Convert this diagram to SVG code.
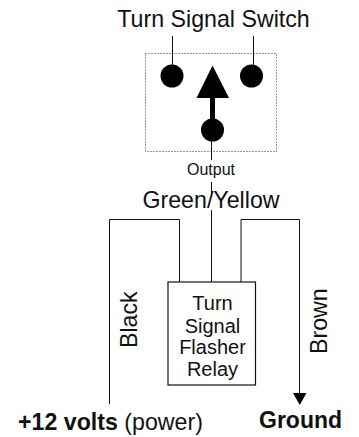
<svg xmlns="http://www.w3.org/2000/svg" width="359" height="437" viewBox="0 0 359 437">
<style>
text{font-family:"Liberation Sans",Arial,sans-serif;fill:#111}
.l{font-size:23.200px}
.m{font-size:20px}
.w{fill:none;stroke:#111;stroke-width:1}
</style>
<rect width="359" height="437" fill="#fff"/>
<g id="connectors">
<path class="w" d="M172.500 36V65M253.500 36V65M211.500 140V160M211.500 182V197M211.500 210V282"/>
<path class="w" d="M109.500 404V219.500H179.500V282"/>
<path class="w" d="M241 282V219.500H299.500V393"/>
<path d="M293 393H306.500L299.800 405Z" fill="#000"/>
<path d="M212.500 126V98" stroke="#000" stroke-width="5" fill="none"/>
<path d="M212.500 65.500L229 98H196.500Z" fill="#000"/>
</g>
<g id="switch">
<rect x="145.500" y="53.500" width="131" height="98" fill="none" stroke="#333" stroke-dasharray="1 2"/>
<circle cx="172" cy="76" r="11.500" fill="#000"/>
<circle cx="251.500" cy="76" r="11.500" fill="#000"/>
<circle cx="212.500" cy="130" r="11.500" fill="#000"/>
<text class="l" x="213.500" y="27" text-anchor="middle">Turn Signal Switch</text>
</g>
<g id="output"><text x="211" y="175" font-size="16" text-anchor="middle">Output</text></g>
<g id="wire-label"><text class="l" x="211" y="208" text-anchor="middle">Green/Yellow</text></g>
<g id="relay">
<rect x="168" y="282" width="87.500" height="103" fill="#fff" stroke="#111" stroke-width="1.200"/>
<g text-anchor="middle">
<text class="m" x="212.500" y="310">Turn</text>
<text class="m" x="212.500" y="333">Signal</text>
<text class="m" x="212.500" y="354">Flasher</text>
<text class="m" x="212.500" y="376">Relay</text>
</g>
</g>
<g id="black"><text class="l" transform="translate(137,348) rotate(-90)">Black</text></g>
<g id="brown"><text class="l" transform="translate(327,354) rotate(-90)">Brown</text></g>
<g id="power"><text class="l" x="18" y="430"><tspan font-weight="bold">+12 volts</tspan> (power)</text></g>
<g id="ground"><text x="259" y="428" font-weight="bold" font-size="23">Ground</text></g>
</svg>
